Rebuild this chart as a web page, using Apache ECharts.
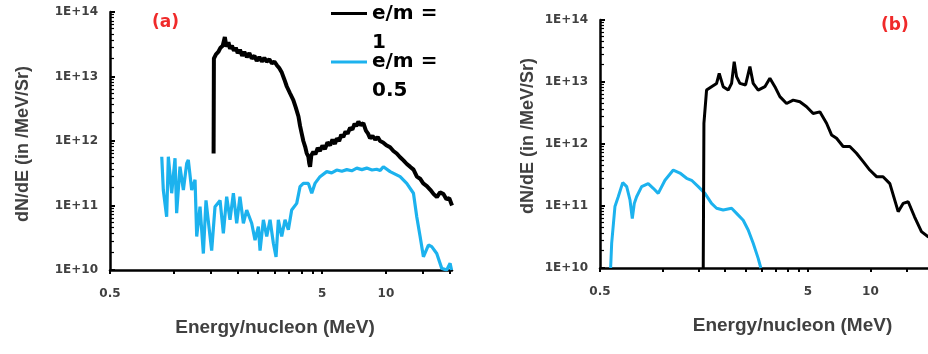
<!DOCTYPE html>
<html><head><meta charset="utf-8">
<script src="https://cdn.jsdelivr.net/npm/echarts/dist/echarts.min.js"></script>
<style>html,body{margin:0;padding:0;background:#fff}#c{width:928px;height:354px}</style>
</head><body><div id="c"></div>
<script>
// ---- data ----
const seriesNames = ['e/m = 1', 'e/m = 0.5'];
const panelLabels = ['(a)', '(b)'];
const xLabelValues = [0.5, 5, 10];
const xTickValues = [0.5, 1, 1.5, 2, 2.5, 3, 3.5, 4, 4.5, 5, 10, 15, 20];
const xTitle = 'Energy/nucleon (MeV)';
const yTitle = 'dN/dE (in /MeV/Sr)';

// panel (a), e/m = 1
const energyA1 = [1.54,1.545,1.58,1.62,1.66,1.70,1.74,1.77,1.81,1.84,1.88,1.92,1.96,2.00,2.05,2.10,2.15,2.21,2.27,2.33,2.40,2.46,2.53,2.60,2.67,2.74,2.82,2.90,2.98,3.06,3.14,3.23,3.32,3.41,3.53,3.66,3.76,3.87,3.94,4.01,4.08,4.16,4.23,4.31,4.35,4.39,4.45,4.55,4.65,4.77,4.89,5.02,5.16,5.30,5.46,5.60,5.75,5.87,6.02,6.16,6.30,6.45,6.60,6.78,6.95,7.12,7.25,7.42,7.60,7.83,8.05,8.24,8.42,8.65,8.90,9.15,9.39,9.70,10.05,10.47,10.85,11.25,11.67,12.1,12.55,13.0,13.5,14.0,14.5,15.0,15.6,16.2,16.8,17.4,18.0,18.7,19.3,19.9,20.5];
const fluxA1 = [6.4e11,1.9e13,2.2e13,2.4e13,2.8e13,3.0e13,4.1e13,2.9e13,3.4e13,2.7e13,3.0e13,2.5e13,2.8e13,2.3e13,2.6e13,2.1e13,2.4e13,2.0e13,2.3e13,1.9e13,2.1e13,1.75e13,2.0e13,1.7e13,1.95e13,1.7e13,1.85e13,1.6e13,1.7e13,1.5e13,1.35e13,1.15e13,9.0e12,7.0e12,5.5e12,4.3e12,3.3e12,2.4e12,1.7e12,1.3e12,1.0e12,8.2e11,6.5e11,5.7e11,4.5e11,4.0e11,6.0e11,6.8e11,6.2e11,7.8e11,7.0e11,8.5e11,7.5e11,9.5e11,8.6e11,1.05e12,9.0e11,1.1e12,1.0e12,1.25e12,1.15e12,1.4e12,1.3e12,1.6e12,1.5e12,1.85e12,1.7e12,2.0e12,1.75e12,1.9e12,1.45e12,1.3e12,1.1e12,1.2e12,1.05e12,1.15e12,1.0e12,9.5e11,8.6e11,8.0e11,7.0e11,6.4e11,5.6e11,5.0e11,4.4e11,4.0e11,3.6e11,2.8e11,2.6e11,2.2e11,2.0e11,1.75e11,1.5e11,1.35e11,1.6e11,1.5e11,1.25e11,1.3e11,1.0e11];

// panel (a), e/m = 0.5
const energyA2 = [0.877,0.892,0.925,0.942,0.977,1.013,1.031,1.069,1.109,1.15,1.17,1.214,1.259,1.282,1.329,1.378,1.418,1.482,1.508,1.564,1.652,1.712,1.775,1.84,1.909,1.979,2.05,2.128,2.206,2.329,2.415,2.504,2.55,2.644,2.742,2.843,2.947,3.034,3.11,3.226,3.345,3.468,3.595,3.797,3.937,4.08,4.31,4.47,4.63,4.89,5.26,5.55,5.86,6.2,6.54,6.9,7.29,7.7,8.12,8.6,9.05,9.4,9.73,10.47,11.67,12.54,13.49,13.98,14.5,15.03,15.87,16.45,17.37,18.34,19.36,20.08,20.4];
const fluxA2 = [5.7e11,1.74e11,6.7e10,5.7e11,1.55e11,5.4e11,7.6e10,4.0e11,1.74e11,4.5e11,5.1e11,1.74e11,2.5e11,3.3e10,9.6e10,1.8e10,1.2e11,3.3e10,2.0e10,9.6e10,1.2e11,3.7e10,1.37e11,6.0e10,1.55e11,5.3e10,1.37e11,5.3e10,8.5e10,5.3e10,2.9e10,4.7e10,2.0e10,6.0e10,3.3e10,6.0e10,2.6e10,1.6e10,6.0e10,3.3e10,6.0e10,4.2e10,8.5e10,1.08e11,1.96e11,2.2e11,2.2e11,1.55e11,2.2e11,2.8e11,3.35e11,3.2e11,3.55e11,3.4e11,3.6e11,3.45e11,3.8e11,3.6e11,3.8e11,3.55e11,3.65e11,3.5e11,4.0e11,3.35e11,2.8e11,2.2e11,1.55e11,6.7e10,3.3e10,1.6e10,2.44e10,2.3e10,1.8e10,1.06e10,1.0e10,1.27e10,1.0e10];

// panel (b), e/m = 1
const energyB1 = [1.569,1.581,1.628,1.72,1.819,1.873,1.957,2.069,2.148,2.211,2.27,2.355,2.507,2.631,2.729,2.884,3.107,3.283,3.47,3.668,3.949,4.25,4.577,4.93,5.3,5.71,6.15,6.5,6.87,7.39,7.96,8.57,9.23,9.93,10.7,11.5,12.4,13.6,14.36,15.2,16.3,17.6,18.9,20];
const fluxB1 = [1.0e10,2.16e12,7.4e12,8.4e12,9.5e12,1.38e13,8.4e12,7.4e12,9.5e12,2.13e13,1.22e13,9.5e12,8.95e12,1.77e13,9.5e12,7.4e12,8.4e12,1.15e13,8.4e12,5.8e12,4.5e12,5.1e12,4.8e12,4.0e12,3.1e12,3.3e12,2.16e12,1.4e12,1.24e12,9.1e11,9.1e11,7.1e11,5.2e11,3.8e11,2.97e11,2.97e11,2.3e11,8.1e10,1.1e11,1.17e11,6.7e10,3.86e10,3.2e10,3.0e10];

// panel (b), e/m = 0.5
const energyB2 = [0.5625,0.569,0.59,0.612,0.643,0.672,0.697,0.715,0.731,0.75,0.793,0.853,0.902,0.953,1.027,1.126,1.212,1.305,1.379,1.485,1.599,1.72,1.819,1.957,2.148,2.27,2.443,2.582,2.729,2.884,2.97];
const fluxB2 = [1.0e10,2.5e10,9.8e10,1.41e11,2.38e11,2.05e11,1.25e11,6.3e10,1.1e11,1.41e11,2.05e11,2.3e11,1.93e11,1.6e11,2.6e11,3.8e11,3.4e11,2.8e11,2.6e11,2.05e11,1.6e11,1.1e11,9.2e10,8.6e10,9.2e10,7.6e10,5.9e10,4.1e10,2.5e10,1.43e10,1.0e10];

// ---- chart ----
const zip = (xs, ys) => xs.map((x, i) => [x, ys[i]]);
const TXT = '#404040';
const BLUE = '#1cb2ee';

function xAxis(gridIndex, max, pad) {
  return {
    type: 'log', logBase: 10, gridIndex, min: 0.5, max,
    name: xTitle, nameLocation: 'middle', nameGap: 48,
    nameTextStyle: { fontFamily: 'Liberation Sans', fontWeight: 'bold', fontSize: 19, color: TXT, padding: pad },
    axisLine: { show: true, onZero: false, lineStyle: { color: '#000', width: 2.5 } },
    axisTick: { show: true, customValues: xTickValues, length: 4, lineStyle: { color: '#000', width: 2 } },
    minorTick: { show: false },
    axisLabel: { customValues: xLabelValues, margin: 18, fontFamily: 'DejaVu Sans', fontWeight: 'bold', fontSize: 12, color: TXT,
      formatter: v => String(+v.toPrecision(3)) },
    splitLine: { show: false }
  };
}
function yAxis(gridIndex, gap, pad) {
  return {
    type: 'log', logBase: 10, gridIndex, min: 1e10, max: 1e14,
    name: yTitle, nameLocation: 'middle', nameGap: gap, nameRotate: 90,
    nameTextStyle: { fontFamily: 'Liberation Sans', fontWeight: 'bold', fontSize: 18, color: TXT, padding: pad },
    axisLine: { show: true, onZero: false, lineStyle: { color: '#000', width: 2.5 } },
    axisTick: { show: true, inside: true, length: 5, lineStyle: { color: '#000', width: 2 } },
    minorTick: { show: true, splitNumber: 10, length: 4, lineStyle: { color: '#000', width: 1.2 } },
    minorSplitLine: { show: false },
    axisLabel: { margin: 12, fontFamily: 'DejaVu Sans', fontWeight: 'bold', fontSize: 12, color: TXT,
      formatter: v => '1E+' + Math.round(Math.log10(v)) },
    splitLine: { show: false }
  };
}
function legendFor(name, top) {
  return {
    data: [name], left: 331, top, orient: 'vertical', padding: 0,
    icon: 'rect', itemWidth: 36, itemHeight: 3,
    formatter: n => ' \n' + n.replace(' = ', ' =\n'),
    textStyle: { fontFamily: 'DejaVu Sans', fontWeight: 'bold', fontSize: 20, color: '#000', lineHeight: 29 }
  };
}

const chart = echarts.init(document.getElementById('c'), null, { renderer: 'canvas' });
chart.setOption({
  animation: false,
  backgroundColor: '#fff',
  title: [
    { text: panelLabels[0], left: 152, top: 14, padding: 0, textStyle: { fontFamily: 'DejaVu Sans', fontWeight: 'bold', fontSize: 17, color: '#f02a2a' } },
    { text: panelLabels[1], left: 881, top: 17, padding: 0, textStyle: { fontFamily: 'DejaVu Sans', fontWeight: 'bold', fontSize: 17, color: '#f02a2a' } }
  ],
  legend: [legendFor(seriesNames[0], -30), legendFor(seriesNames[1], 18.5)],
  grid: [
    { left: 110, top: 12, width: 342, height: 258, containLabel: false, outerBoundsMode: 'none' },
    { left: 600, top: 20, width: 333, height: 248, containLabel: false, outerBoundsMode: 'none' }
  ],
  xAxis: [xAxis(0, 20.5, [0, 12, 0, 0]), xAxis(1, 20, [0, 0, 0, 52])],
  yAxis: [yAxis(0, 78, [0, 6, 0, 0]), yAxis(1, 63, [0, 0, 0, 16])],
  series: [
    { name: seriesNames[1], type: 'line', xAxisIndex: 0, yAxisIndex: 0, showSymbol: false, symbol: 'none', data: zip(energyA2, fluxA2), lineStyle: { color: BLUE, width: 3.2 }, itemStyle: { color: BLUE }, z: 2 },
    { name: seriesNames[0], type: 'line', xAxisIndex: 0, yAxisIndex: 0, showSymbol: false, symbol: 'none', data: zip(energyA1, fluxA1), lineStyle: { color: '#000', width: 4 }, itemStyle: { color: '#000' }, z: 3 },
    { name: seriesNames[1], type: 'line', xAxisIndex: 1, yAxisIndex: 1, showSymbol: false, symbol: 'none', data: zip(energyB2, fluxB2), lineStyle: { color: BLUE, width: 3 }, itemStyle: { color: BLUE }, z: 2 },
    { name: seriesNames[0], type: 'line', xAxisIndex: 1, yAxisIndex: 1, showSymbol: false, symbol: 'none', data: zip(energyB1, fluxB1), lineStyle: { color: '#000', width: 3 }, itemStyle: { color: '#000' }, z: 3 }
  ]
});
</script></body></html>
